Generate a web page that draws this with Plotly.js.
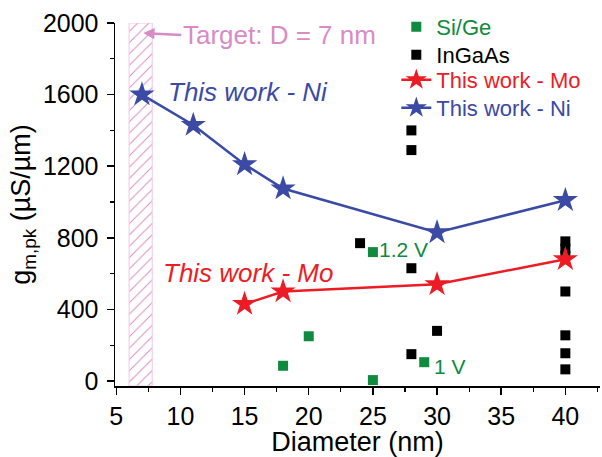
<!DOCTYPE html>
<html>
<head>
<meta charset="utf-8">
<script src="https://cdn.plot.ly/plotly-3.0.1.min.js"></script>
<style>html,body{margin:0;padding:0;background:#fff;}</style>
</head>
<body>
<div id="chart" style="width:602px;height:457px;"></div>
<script>
// Data
const siGeX = [18, 20, 25, 25, 29];
const siGeY = [85, 250, 5, 720, 105];
const inGaAsX = [24, 28, 28, 28, 28, 30, 40, 40, 40, 40, 40, 40, 40];
const inGaAsY = [770, 1400, 1290, 630, 150, 280, 780, 740, 500, 255, 155, 65, 700];
const moX = [15, 18, 30, 40];
const moY = [430, 500, 540, 680];
const niX = [7, 11, 15, 18, 30, 40];
const niY = [1600, 1430, 1210, 1075, 830, 1010];
const targetX = [6.9];
const targetWidth = [1.8];
const targetTop = [2000];

const FONT = 'Arial, "Liberation Sans", sans-serif';
const GREEN = '#0f8a3e', RED = '#ed1c24', BLUE = '#3a4aa5', PINK = '#d98bc6';
const yBottom = -28;

const traces = [
  {
    type: 'bar', x: targetX, width: targetWidth,
    y: targetTop.map(v => v - yBottom), base: yBottom,
    marker: {color: 'white', line: {color: '#f2c6e6', width: 1},
      pattern: {shape: '/', fgcolor: PINK, bgcolor: 'white', size: 8, solidity: 0.12}},
    showlegend: false, hoverinfo: 'skip'
  },
  {
    type: 'scatter', mode: 'markers', x: siGeX, y: siGeY, legend: 'legend',
    name: '<span style="color:' + GREEN + '">Si/Ge</span>',
    marker: {symbol: 'square', size: 10, color: GREEN}
  },
  {
    type: 'scatter', mode: 'markers', x: inGaAsX, y: inGaAsY, legend: 'legend2',
    name: '<span style="color:#000">InGaAs</span>',
    marker: {symbol: 'square', size: 10, color: '#000'}
  },
  {
    type: 'scatter', mode: 'lines+markers', x: moX, y: moY, legend: 'legend3',
    name: '<span style="color:' + RED + '">This work - Mo</span>',
    line: {color: RED, width: 2.5},
    marker: {symbol: 'star', size: 19, color: RED}
  },
  {
    type: 'scatter', mode: 'lines+markers', x: niX, y: niY, legend: 'legend4',
    name: '<span style="color:' + BLUE + '">This work - Ni</span>',
    line: {color: BLUE, width: 2.5},
    marker: {symbol: 'star', size: 19, color: BLUE}
  }
];

function leg(py) {
  return {x: 0.58, y: 1 + (23 - py) / 363, xanchor: 'left', yanchor: 'middle',
    bgcolor: 'rgba(0,0,0,0)', font: {family: FONT, size: 22}};
}

const layout = {
  width: 602, height: 457,
  margin: {l: 115, r: 2, t: 23, b: 71},
  paper_bgcolor: 'white', plot_bgcolor: 'white',
  font: {family: FONT, size: 24, color: '#000'},
  showlegend: true,
  legend: leg(27), legend2: leg(55), legend3: leg(80), legend4: leg(108),
  xaxis: {
    range: [4.9, 42.7], showgrid: false, zeroline: false,
    showline: true, linecolor: '#000', linewidth: 1.5,
    ticks: 'outside', ticklen: 7, tickwidth: 1.5, tickcolor: '#000',
    tick0: 5, dtick: 5,
    minor: {dtick: 2.5, ticks: 'outside', ticklen: 4, tickwidth: 1.2, tickcolor: '#000', showgrid: false},
    tickfont: {size: 25},
    title: {text: 'Diameter (nm)', font: {size: 27}, standoff: 5}
  },
  yaxis: {
    range: [yBottom, 2000], showgrid: false, zeroline: false,
    showline: true, linecolor: '#000', linewidth: 1.5,
    ticks: 'outside', ticklen: 7, tickwidth: 1.5, tickcolor: '#000',
    tick0: 0, dtick: 400, ticklabelstandoff: 3,
    minor: {dtick: 200, ticks: 'outside', ticklen: 4, tickwidth: 1.2, tickcolor: '#000', showgrid: false},
    tickfont: {size: 25},
    title: {text: 'g<sub>m,pk</sub> (µS/µm)', font: {size: 27}, standoff: 4}
  },
  annotations: [
    {x: 7.1, y: 1944, xref: 'x', yref: 'y', text: 'Target: D = 7 nm',
     xanchor: 'left', yanchor: 'middle', showarrow: true, ax: 38, ay: 2,
     arrowcolor: PINK, arrowwidth: 2.5, arrowhead: 2, arrowsize: 0.9,
     font: {size: 26, color: PINK}},
    {x: 8.85, y: 1615, xref: 'x', yref: 'y', text: '<i>This work - Ni</i>',
     xanchor: 'left', yanchor: 'middle', showarrow: false, font: {size: 26, color: BLUE}},
    {x: 8.5, y: 603, xref: 'x', yref: 'y', text: '<i>This work - Mo</i>',
     xanchor: 'left', yanchor: 'middle', showarrow: false, font: {size: 26, color: RED}},
    {x: 25.3, y: 737, xref: 'x', yref: 'y', text: '1.2 V',
     xanchor: 'left', yanchor: 'middle', showarrow: false, font: {size: 21, color: GREEN}},
    {x: 29.6, y: 80, xref: 'x', yref: 'y', text: '1 V',
     xanchor: 'left', yanchor: 'middle', showarrow: false, font: {size: 21, color: GREEN}}
  ]
};

Plotly.newPlot('chart', traces, layout, {displayModeBar: false, staticPlot: true});
</script>
</body>
</html>
